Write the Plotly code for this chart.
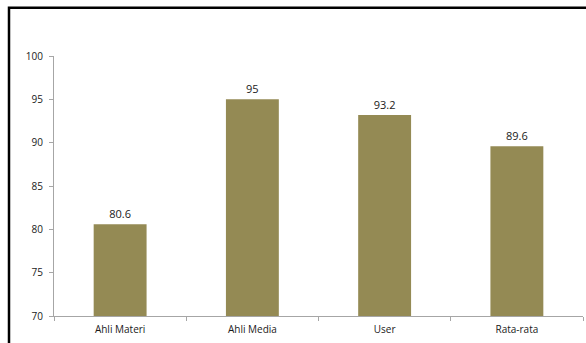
import plotly.graph_objects as go

categories = ["Ahli Materi", "Ahli Media", "User", "Rata-rata"]
values = [80.6, 95, 93.2, 89.6]
value_labels = ["80.6", "95", "93.2", "89.6"]
y_ticks = [70, 75, 80, 85, 90, 95, 100]

W, H = 586, 343
ml, mr, mt, mb = 54, 3, 56, 27
pw, ph = W - ml - mr, H - mt - mb

fig = go.Figure(go.Bar(
    x=categories, y=values,
    marker=dict(color="#948A54", line=dict(width=0)),
    width=0.4,
    text=value_labels, textposition="outside",
    textfont=dict(size=11, color="#1a1a1a", family="Open Sans"),
    cliponaxis=False,
))

fig.update_layout(
    width=W, height=H,
    margin=dict(l=ml, r=mr, t=mt, b=mb),
    paper_bgcolor="white", plot_bgcolor="white",
    showlegend=False,
    font=dict(family="Open Sans", size=10, color="#1a1a1a"),
    xaxis=dict(
        showgrid=False, showline=True, linecolor="#a6a6a6", linewidth=1,
        ticks="outside", tickson="boundaries", ticklen=4, tickcolor="#a6a6a6",
        tickfont=dict(size=10, color="#1a1a1a"),
        ticklabelstandoff=4,
        range=[-0.5, 3.5],
    ),
    yaxis=dict(
        range=[70, 100], tickvals=y_ticks, showgrid=False, zeroline=False,
        showline=True, linecolor="#a6a6a6", linewidth=1,
        ticks="outside", ticklen=4, tickcolor="#a6a6a6",
        tickfont=dict(size=10, color="#1a1a1a"),
        ticklabelstandoff=4,
    ),
    shapes=[dict(
        type="rect", xref="paper", yref="paper",
        x0=(9 - ml) / pw, x1=(W + 10 - ml) / pw,
        y0=-(H + 10 - mt - ph) / ph, y1=1 + (mt - 7.7) / ph,
        line=dict(color="black", width=2.5), fillcolor="rgba(0,0,0,0)",
        layer="above",
    )],
)

fig.write_html("out.html")
